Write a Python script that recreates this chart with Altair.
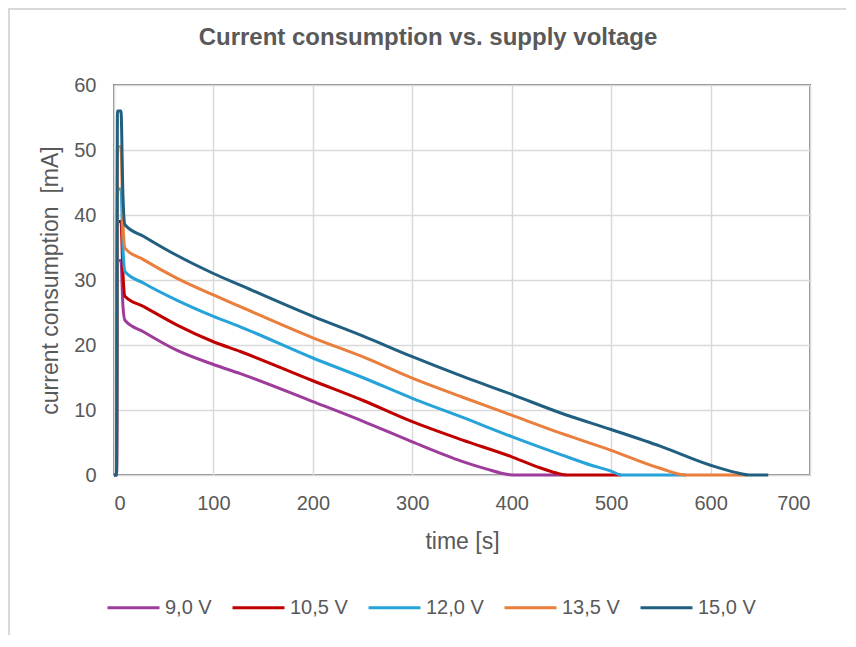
import altair as alt
import pandas as pd

# series labels and colours (legend order)
series = ["9,0 V", "10,5 V", "12,0 V", "13,5 V", "15,0 V"]
colors = ["#9E3C9C", "#C00000", "#26A3D8", "#E97E3D", "#215F80"]

# time [s] and current [mA]
t_90 = [0, 2.5, 3.5, 7, 9, 11, 30, 63, 100, 127, 200, 250, 300, 350, 375, 395, 400, 455]
i_90 = [0, 0, 33, 33, 26, 23.8, 22.0, 19.2, 17.0, 15.6, 11.3, 8.3, 5.1, 2.1, 0.9, 0.1, 0, 0]

t_105 = [0, 2.5, 3.5, 7, 9, 11, 30, 63, 100, 127, 200, 250, 300, 350, 400, 425, 445, 455, 510]
i_105 = [0, 0, 39, 39, 31, 27.5, 25.9, 23.1, 20.5, 19.0, 14.5, 11.5, 8.2, 5.4, 2.8, 1.3, 0.3, 0, 0]

t_120 = [0, 2.5, 3.5, 7, 9, 11, 30, 63, 100, 127, 200, 250, 300, 350, 400, 450, 480, 500, 510, 575]
i_120 = [0, 0, 44, 44, 35, 31.3, 29.5, 26.9, 24.4, 22.8, 18.0, 15.0, 11.8, 8.9, 5.9, 3.1, 1.5, 0.6, 0, 0]

t_135 = [0, 2.5, 3.5, 7, 9, 11, 30, 63, 100, 127, 200, 250, 300, 350, 400, 450, 500, 550, 575, 637]
i_135 = [0, 0, 50.5, 50.5, 39, 34.9, 33.1, 30.3, 27.7, 25.9, 21.1, 18.2, 14.9, 12.0, 9.2, 6.4, 3.8, 1.0, 0, 0]

t_150 = [0, 2.5, 3.5, 7, 9, 11, 30, 63, 100, 127, 200, 250, 300, 350, 400, 450, 500, 550, 600, 625, 640, 658]
i_150 = [0, 0, 56, 56, 43, 38.5, 36.7, 33.8, 31.0, 29.2, 24.4, 21.4, 18.2, 15.2, 12.4, 9.5, 7.0, 4.4, 1.5, 0.4, 0, 0]

x_ticks = [0, 100, 200, 300, 400, 500, 600, 700]
y_ticks = [0, 10, 20, 30, 40, 50, 60]

rows = []
for k, (ts, vs) in enumerate([(t_90, i_90), (t_105, i_105), (t_120, i_120),
                              (t_135, i_135), (t_150, i_150)]):
    for t, v in zip(ts, vs):
        rows.append({"series": series[k], "order": k, "time": t, "current": v})
df = pd.DataFrame(rows)

FONT = "Liberation Sans"
TXT = "#595959"

lines = alt.Chart(df).mark_line(strokeWidth=3, interpolate="monotone").encode(
    x=alt.X("time:Q",
            scale=alt.Scale(domain=[0, 700], nice=False),
            axis=alt.Axis(title="time [s]", values=x_ticks, labelPadding=18,
                          titlePadding=17)),
    y=alt.Y("current:Q",
            scale=alt.Scale(domain=[0, 60], nice=False),
            axis=alt.Axis(title="current consumption \u00a0[mA]", values=y_ticks,
                          labelPadding=18, titlePadding=11)),
    color=alt.Color("series:N",
                    scale=alt.Scale(domain=series, range=colors),
                    sort=series,
                    legend=alt.Legend(title=None, orient="none", direction="horizontal",
                                      columns=5, legendX=-8, legendY=495,
                                      symbolType="stroke", symbolSize=2700,
                                      symbolStrokeWidth=3, columnPadding=14,
                                      labelOffset=4, labelFontSize=20,
                                      labelColor=TXT, labelFont=FONT)),
    order=alt.Order("order:Q"),
)

# light grey frame round the whole chart area
frame = alt.Chart(df).mark_rect(fill=None, stroke="#d9d9d9", strokeWidth=1.5).encode(
    x=alt.value(-105), x2=alt.value(733), y=alt.value(-76), y2=alt.value(553)
)

chart = (frame + lines).properties(
    width=696, height=390,
    autosize=alt.AutoSizeParams(type="none"),
    padding={"left": 106, "top": 77, "right": 36, "bottom": 160},
    title=alt.Title("Current consumption vs. supply voltage", fontSize=24,
                    font=FONT, fontWeight="bold", color=TXT, anchor="middle",
                    dx=-34, offset=-42),
).configure_view(
    stroke="#898989", strokeWidth=2
).configure_axis(
    domain=False, ticks=False, grid=True, gridColor="#d9d9d9", gridWidth=1.5,
    labelFont=FONT, labelFontSize=20, labelColor=TXT,
    titleFont=FONT, titleFontSize=23, titleColor=TXT, titleFontWeight="normal",
)

chart.save("out.html", embed_options={"renderer": "svg", "actions": False})
